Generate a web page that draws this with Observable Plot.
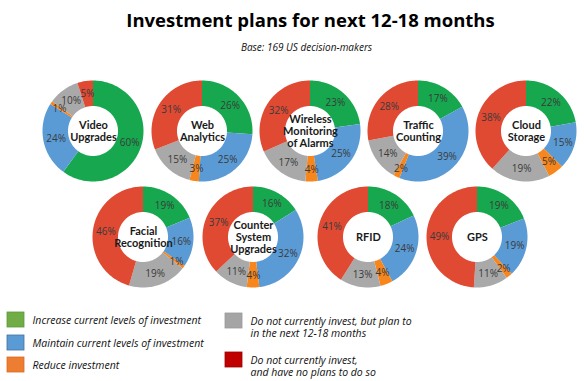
<!DOCTYPE html>
<html>
<head>
<meta charset="utf-8">
<script src="https://cdn.jsdelivr.net/npm/d3@7"></script>
<script src="https://cdn.jsdelivr.net/npm/@observablehq/plot@0.6"></script>
<style>
  html, body { margin: 0; padding: 0; background: #fff; }
  svg { display: block; }
</style>
</head>
<body>
<div id="chart"></div>
<script>
// ---- Data ----
const charts = ["Video\nUpgrades", "Web\nAnalytics", "Wireless\nMonitoring\nof Alarms", "Traffic\nCounting", "Cloud\nStorage",
                "Facial\nRecognition", "Counter\nSystem\nUpgrades", "RFID", "GPS"];
const categories = [
  "Increase current levels of investment",
  "Maintain current levels of investment",
  "Reduce investment",
  "Do not currently invest, but plan to in the next 12-18 months",
  "Do not currently invest, and have no plans to do so"
];
const legendLabels = [
  "Increase current levels of investment",
  "Maintain current levels of investment",
  "Reduce investment",
  "Do not currently invest, but plan to\nin the next 12-18 months",
  "Do not currently invest,\nand have no plans to do so"
];
const increase = [60, 26, 23, 17, 22, 19, 16, 18, 19];
const maintain = [24, 25, 25, 39, 15, 16, 32, 24, 19];
const reduce   = [1, 3, 4, 2, 5, 1, 4, 4, 2];
const planTo   = [10, 15, 17, 14, 19, 19, 11, 13, 11];
const noPlans  = [5, 31, 32, 28, 38, 46, 37, 41, 49];
const title = "Investment plans for next 12-18 months";
const subtitle = "Base: 169 US decision-makers";

// ---- Styles / layout ----
const donutColors = ["#17a84f", "#5b9bd5", "#f7861d", "#a9a9a9", "#e04a33"];
const legendColors = ["#70ad47", "#5b9bd5", "#ed7d31", "#a5a5a5", "#c00000"];
const legendStrokes = ["#5d9a3a", "#41719c", "#d86d25", "#999999", "#9e0000"];
const centers = [[93,131],[202,131],[310,131],[418,131],[526,131],[143,237],[253,237],[368,237],[477,237]];
const R0 = 25, R1 = 50.5, RL = 38;
const W = 584, H = 381;
const FONT = "'Open Sans', 'Noto Sans', sans-serif";
const NARROW = "Lato, 'Open Sans', sans-serif";

const series = [increase, maintain, reduce, planTo, noPlans];
const ring = [], labels = [], centerLabels = [];
charts.forEach((name, i) => {
  const [cx, cy] = centers[i];
  const vals = series.map(s => s[i]);
  const total = d3.sum(vals);
  let acc = 0;
  vals.forEach((v, j) => {
    const a0 = acc / total * 2 * Math.PI;
    const a1 = (acc + v) / total * 2 * Math.PI;
    acc += v;
    const n = Math.max(2, Math.ceil((a1 - a0) / (Math.PI / 120)));
    for (let k = 0; k <= n; k++) {
      const a = a0 + (a1 - a0) * k / n;
      ring.push({key: i + "-" + j, cat: categories[j],
        ox: cx + R1 * Math.sin(a), oy: cy - R1 * Math.cos(a),
        ix: cx + R0 * Math.sin(a), iy: cy - R0 * Math.cos(a)});
    }
    const m = (a0 + a1) / 2;
    const rl = v <= 2 ? RL + 3 : RL;
    labels.push({x: cx + rl * Math.sin(m), y: cy - rl * Math.cos(m), text: v + "%"});
  });
  centerLabels.push({x: cx, y: cy, text: name});
});

const legendPos = [[7,312],[7,335],[7,357],[225,313],[225,352]];
const legendRows = categories.map((c, i) => ({cat: c, label: legendLabels[i],
  x1: legendPos[i][0], x2: legendPos[i][0] + 17, y1: legendPos[i][1], y2: legendPos[i][1] + 15}));

const plot = Plot.plot({
  width: W, height: H, margin: 0,
  x: {domain: [0, W], range: [0, W], axis: null},
  y: {domain: [0, H], range: [0, H], axis: null},
  color: {domain: categories, range: donutColors},
  style: {fontFamily: FONT, background: "#fff"},
  marks: [
    Plot.area(ring, {x1: "ox", y1: "oy", x2: "ix", y2: "iy", z: "key", fill: "cat", curve: "linear"}),
    Plot.text(labels, {x: "x", y: "y", text: "text", fontSize: 10, fill: "#3a3a3a"}),
    Plot.text(centerLabels, {x: "x", y: "y", text: "text", fontFamily: NARROW, fontSize: 11, fontWeight: "bold", fill: "#1a1a1a", lineHeight: 1.08}),
    Plot.text([title], {x: () => 310, y: () => 21, text: d => d, fontSize: 18.5, fontWeight: "bold", fill: "#000"}),
    Plot.text([subtitle], {x: () => 306, y: () => 47, text: d => d, fontSize: 10, fontStyle: "italic", fill: "#111"}),
    ...legendRows.map((r, i) => Plot.rect([r], {x1: "x1", x2: "x2", y1: "y1", y2: "y2", fill: legendColors[i], stroke: legendStrokes[i], strokeWidth: 0.8})),
    Plot.text(legendRows, {x: d => d.x2 + 8, y: d => (d.y1 + d.y2) / 2 + (d.label.includes("\n") ? 6 : 0), text: "label", textAnchor: "start", fontSize: 10.5, fontStyle: "italic", fill: "#111", lineHeight: 1.2})
  ]
});
document.getElementById("chart").appendChild(plot);
</script>
</body>
</html>
